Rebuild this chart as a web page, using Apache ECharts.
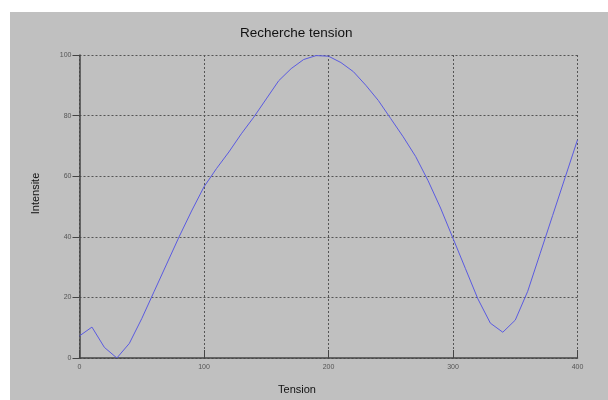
<!DOCTYPE html>
<html><head><meta charset="utf-8">
<script src="https://cdn.jsdelivr.net/npm/echarts@6/dist/echarts.min.js"></script>
<style>html,body{margin:0;padding:0;background:#fff}#c{width:608px;height:400px}</style>
</head><body><div id="c"></div>
<script>
const tension = [0,10,20,30,40,50,60,70,80,90,100,110,120,130,140,150,160,170,180,190,200,210,220,230,240,250,260,270,280,290,300,310,320,330,340,350,360,370,380,390,400];
const intensite = [7.3,10.2,3.5,0,4.8,13,22,31,40,48.5,56.5,62.5,68,74,79.5,85.5,91.5,95.5,98.5,99.8,99.6,97.5,94.5,90,85,79,73,66.5,58.5,49.5,39.5,29.5,19.5,11.5,8.5,12.5,22,34.5,47,59.5,72];
const titleText = 'Recherche tension';
const xName = 'Tension';
const yName = 'Intensite';

const chart = echarts.init(document.getElementById('c'), null, {renderer:'canvas'});
const font = 'Liberation Sans, Arial, sans-serif';
chart.setOption({
  animation:false,
  backgroundColor:'#ffffff',
  graphic:[{type:'rect', z:-10, shape:{x:10,y:12,width:598,height:388}, style:{fill:'#c0c0c0'}}],
  title:{text:titleText, left:240, top:26, padding:0, textStyle:{fontFamily:font, fontSize:13.5, fontWeight:'normal', color:'#111'}},
  grid:{left:79.5, right:30.5, top:55, bottom:41.7},
  xAxis:{type:'value', min:0, max:400, interval:100,
    name:xName, nameLocation:'middle', nameGap:26, nameTextStyle:{fontFamily:font,fontSize:11,color:'#111',padding:[0,63,0,0]},
    axisLine:{lineStyle:{color:'#444',width:1.5}},
    axisTick:{inside:true,length:8,lineStyle:{color:'#444'}},
    axisLabel:{fontFamily:font,fontSize:7,color:'#555',margin:6},
    splitLine:{show:true,lineStyle:{color:'#555',type:[2,2],width:1}}},
  yAxis:{type:'value', min:0, max:100, interval:20,
    name:yName, nameLocation:'middle', nameGap:38, nameRotate:90, nameTextStyle:{fontFamily:font,fontSize:11,color:'#111',padding:[0,0,0,26]},
    axisLine:{show:true,lineStyle:{color:'#444',width:1.5}},
    axisTick:{show:true,inside:false,length:7,lineStyle:{color:'#444'}},
    axisLabel:{fontFamily:font,fontSize:7,color:'#555',margin:8},
    splitLine:{show:true,lineStyle:{color:'#555',type:[2,2],width:1}}},
  series:[{type:'line', data:tension.map((t,i)=>[t,intensite[i]]), symbol:'none',
    lineStyle:{color:'#5a5ae0',width:1}}]
});
</script></body></html>
